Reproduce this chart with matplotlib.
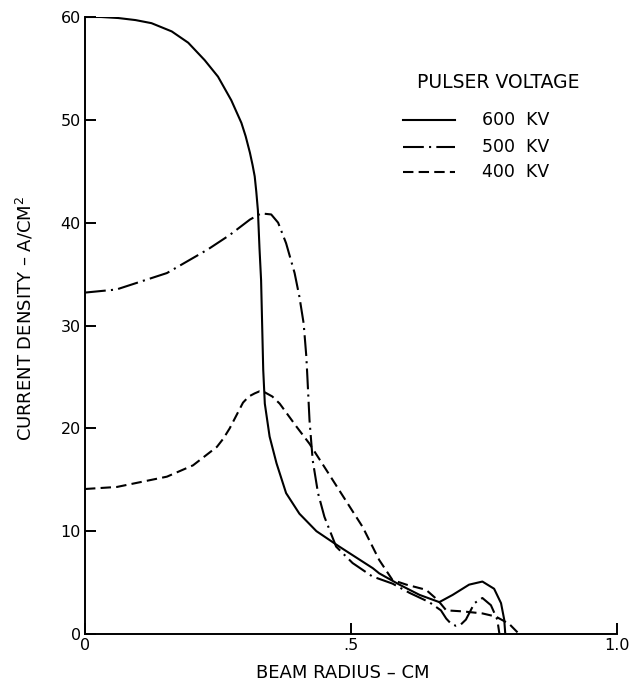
import matplotlib
matplotlib.use("Agg")
import matplotlib.pyplot as plt
from matplotlib.lines import Line2D

# ---- data ----
r600 = [0.0, 0.03, 0.0625, 0.095, 0.125, 0.163, 0.194, 0.225, 0.25, 0.275, 0.294, 0.302,
        0.31, 0.315, 0.319, 0.322, 0.325, 0.328, 0.331, 0.335, 0.338, 0.347, 0.36, 0.378,
        0.403, 0.435, 0.478, 0.541, 0.553, 0.591, 0.629, 0.666, 0.691, 0.722, 0.747,
        0.769, 0.782, 0.788, 0.79]
j600 = [60.0, 60.0, 59.9, 59.7, 59.4, 58.6, 57.5, 55.8, 54.2, 51.9, 49.7, 48.4,
        46.8, 45.6, 44.5, 43.0, 41.2, 37.5, 34.4, 25.7, 22.4, 19.2, 16.6, 13.7,
        11.7, 10.0, 8.5, 6.4, 5.9, 4.8, 3.8, 3.1, 3.8, 4.8, 5.1,
        4.4, 3.0, 1.4, 0.0]

r500 = [0.0, 0.059, 0.154, 0.231, 0.272, 0.31, 0.331, 0.35, 0.363, 0.378, 0.394, 0.403,
        0.411, 0.416, 0.418, 0.422, 0.428, 0.438, 0.45, 0.472, 0.503, 0.54, 0.578,
        0.61, 0.647, 0.669, 0.679, 0.688, 0.697, 0.706, 0.716, 0.732, 0.747, 0.763,
        0.775, 0.779]
j500 = [33.2, 33.5, 35.1, 37.4, 38.8, 40.3, 40.9, 40.8, 40.0, 38.0, 35.1, 32.8,
        30.2, 27.0, 25.0, 20.8, 16.9, 13.7, 11.4, 8.5, 6.9, 5.6, 4.9,
        4.0, 3.1, 2.3, 1.5, 1.0, 0.8, 0.9, 1.4, 3.0, 3.5, 2.8,
        1.4, 0.0]

r400 = [0.0, 0.06, 0.154, 0.203, 0.248, 0.26, 0.272, 0.285, 0.297, 0.308, 0.319, 0.328,
        0.338, 0.352, 0.366, 0.397, 0.422, 0.453, 0.485, 0.522, 0.553, 0.578, 0.604,
        0.641, 0.663, 0.679, 0.71, 0.747, 0.772, 0.797, 0.816]
j400 = [14.1, 14.3, 15.3, 16.4, 18.2, 19.0, 20.0, 21.3, 22.5, 23.1, 23.4, 23.6,
        23.5, 23.1, 22.4, 20.2, 18.5, 16.0, 13.4, 10.4, 7.2, 5.25, 4.8,
        4.3, 3.3, 2.3, 2.2, 2.0, 1.7, 1.0, 0.0]

series_labels = ["600  KV", "500  KV", "400  KV"]
legend_title = "PULSER VOLTAGE"
x_ticks = [0, 0.5, 1.0]
x_ticklabels = ["0", ".5", "1.0"]
y_ticks = [0, 10, 20, 30, 40, 50, 60]
y_ticklabels = ["0", "10", "20", "30", "40", "50", "60"]

plt.rcParams['font.family'] = ['DejaVu Sans']

W, H = 632, 683
fig = plt.figure(figsize=(W / 100, H / 100), dpi=100)
ax = fig.add_axes([85 / W, 1 - 634 / H, (617 - 85) / W, (634 - 17) / H])

lw = 1.5
styles = [dict(linestyle='-'),
          dict(linestyle=(0, (10, 2.5, 1, 2.5))),
          dict(linestyle=(0, (5, 2.5)))]

for r, j, st in zip([r600, r500, r400], [j600, j500, j400], styles):
    ax.plot(r, j, color='black', lw=lw, solid_joinstyle='round', **st)

ax.set_xlim(0, 1.0)
ax.set_ylim(0, 60)
ax.set_xticks(x_ticks)
ax.set_xticklabels(x_ticklabels)
ax.set_yticks(y_ticks)
ax.set_yticklabels(y_ticklabels)
ax.spines['top'].set_visible(False)
ax.spines['right'].set_visible(False)
for s in ('left', 'bottom'):
    ax.spines[s].set_linewidth(1.4)
ax.tick_params(direction='in', length=8, width=1.4, labelsize=11.5, pad=3)

# axis labels
fig.text(343 / W, 1 - 673 / H, "BEAM RADIUS \u2013 CM", ha='center', va='center', fontsize=13)
fig.text(25 / W, 1 - 318 / H, "CURRENT DENSITY \u2013 A/CM$^2$", ha='center', va='center',
         rotation=90, fontsize=13)

# legend (manual)
fig.text(417 / W, 1 - 83 / H, legend_title, ha='left', va='center', fontsize=13.5)
ys = [120, 147, 172]
for lab, st, yy in zip(series_labels, styles, ys):
    fig.add_artist(Line2D([403 / W, 455 / W], [1 - yy / H, 1 - yy / H], color='black',
                          lw=lw, transform=fig.transFigure, **st))
    fig.text(482 / W, 1 - yy / H, lab, ha='left', va='center', fontsize=12.5)

fig.savefig("out.png", dpi=100)
